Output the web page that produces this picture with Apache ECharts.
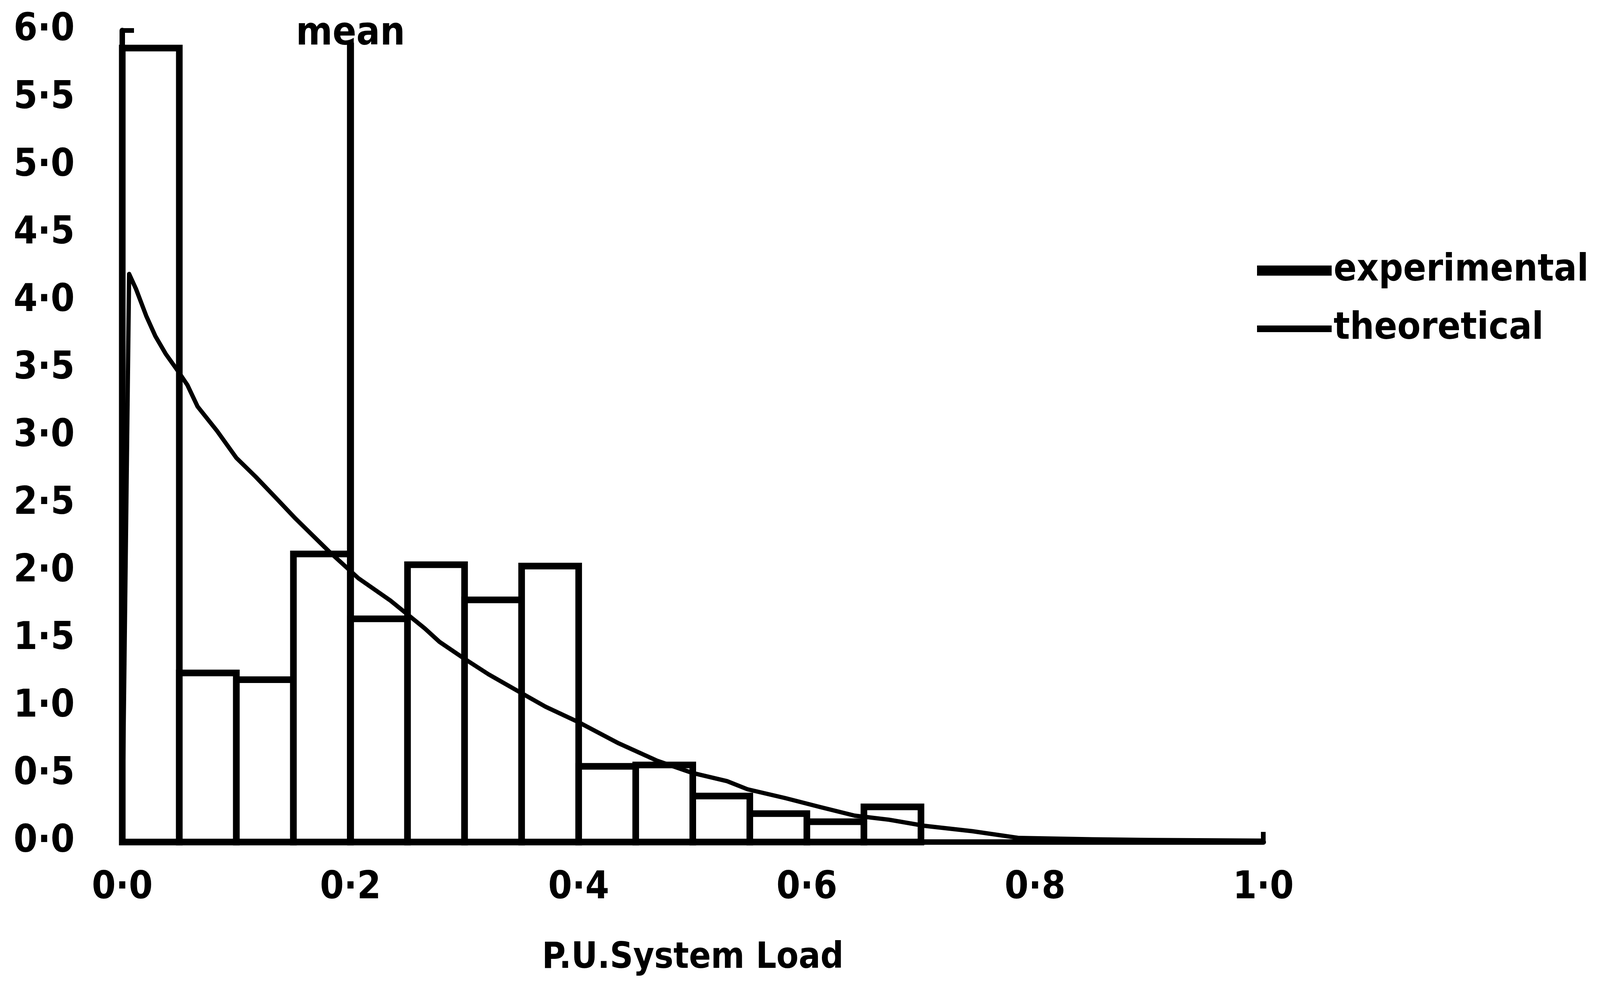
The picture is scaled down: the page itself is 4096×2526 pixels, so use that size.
<!DOCTYPE html>
<html>
<head>
<meta charset="utf-8">
<script src="https://cdn.jsdelivr.net/npm/echarts@6/dist/echarts.min.js"></script>
<style>
html,body{margin:0;padding:0;background:#fff;}
#chart{width:4096px;height:2526px;}
</style>
</head>
<body>
<div id="chart"></div>
<script>
// ---- data ----
var binStart = [0.00, 0.05, 0.10, 0.15, 0.20, 0.25, 0.30, 0.35, 0.40, 0.45, 0.50, 0.55, 0.60, 0.65];
var binEnd   = [0.05, 0.10, 0.15, 0.20, 0.25, 0.30, 0.35, 0.40, 0.45, 0.50, 0.55, 0.60, 0.65, 0.70];
var experimental = [5.87, 1.25, 1.20, 2.13, 1.65, 2.05, 1.79, 2.04, 0.56, 0.57, 0.34, 0.21, 0.15, 0.26];

var theoX = [0.000, 0.006, 0.012, 0.021, 0.029, 0.038, 0.049, 0.057, 0.066, 0.083, 0.100, 0.117, 0.134, 0.152, 0.181, 0.207, 0.235, 0.265, 0.278, 0.299, 0.321, 0.348, 0.371, 0.399, 0.435, 0.469, 0.500, 0.530, 0.548, 0.581, 0.611, 0.642, 0.672, 0.703, 0.745, 0.786, 0.850, 0.900, 1.000];
var theoY = [0.00, 4.20, 4.09, 3.89, 3.74, 3.61, 3.48, 3.38, 3.22, 3.04, 2.84, 2.70, 2.55, 2.39, 2.15, 1.95, 1.785, 1.58, 1.48, 1.36, 1.24, 1.11, 1.00, 0.89, 0.73, 0.60, 0.51, 0.45, 0.39, 0.325, 0.26, 0.195, 0.165, 0.12, 0.08, 0.03, 0.02, 0.015, 0.01];

var meanX = [0.2, 0.2];
var meanY = [0.0, 5.91];

var xTicks = [0, 0.2, 0.4, 0.6, 0.8, 1.0];
var yTickStep = 0.5;
var seriesNames = ['experimental', 'theoretical'];
var meanLabel = 'mean';
var xName = 'P.U.System Load';

// ---- build ----
var FONT = "'Liberation Sans Narrow', 'DejaVu Sans Condensed', 'Roboto', sans-serif";
var W = 'bold';
function dotFmt(v) { return Number(v).toFixed(1).replace('.', '\u00B7'); }

var histData = binStart.map(function (s, i) { return [s, binEnd[i], experimental[i]]; });
var theoData = theoX.map(function (x, i) { return [x, theoY[i]]; });
var meanData = meanX.map(function (x, i) { return [x, meanY[i]]; });

var chart = echarts.init(document.getElementById('chart'), null, {renderer: 'canvas'});
chart.setOption({
  backgroundColor: '#ffffff',
  animation: false,
  textStyle: {fontFamily: FONT, color: '#000'},
  grid: {left: 313, right: 862, top: 78, bottom: 371, containLabel: false, outerBoundsMode: 'none'},
  legend: [
    {
      data: [{name: seriesNames[0]}],
      orient: 'vertical', left: 3218, top: 644, padding: 0,
      icon: 'rect', itemWidth: 191, itemHeight: 26, selectedMode: false,
      itemStyle: {color: '#000', borderWidth: 0},
      textStyle: {fontFamily: FONT, fontSize: 97, fontWeight: W, color: '#000'}
    },
    {
      data: [{name: seriesNames[1]}],
      orient: 'vertical', left: 3218, top: 793, padding: 0,
      icon: 'rect', itemWidth: 191, itemHeight: 17, selectedMode: false,
      itemStyle: {color: '#000', borderWidth: 0},
      textStyle: {fontFamily: FONT, fontSize: 97, fontWeight: W, color: '#000'}
    }
  ],
  xAxis: {
    type: 'value', min: xTicks[0], max: xTicks[xTicks.length - 1], interval: 0.2,
    name: xName, nameLocation: 'middle', nameGap: 252,
    nameTextStyle: {fontFamily: FONT, fontSize: 92, fontWeight: W, color: '#000'},
    axisLine: {show: true, onZero: false, lineStyle: {color: '#000', width: 14}},
    axisTick: {show: true, inside: true, length: 26, customValues: [1.0], lineStyle: {color: '#000', width: 12}},
    axisLabel: {show: true, margin: 70, fontFamily: FONT, fontSize: 98, fontWeight: W, color: '#000', formatter: dotFmt},
    splitLine: {show: false}
  },
  yAxis: {
    type: 'value', min: 0, max: 6, interval: yTickStep,
    axisLine: {show: true, onZero: false, lineStyle: {color: '#000', width: 14}},
    axisTick: {show: true, inside: true, length: 30, lineStyle: {color: '#000', width: 12}},
    axisLabel: {show: true, margin: 122, fontFamily: FONT, fontSize: 98, fontWeight: W, color: '#000', formatter: dotFmt},
    splitLine: {show: false}
  },
  series: [
    {
      name: seriesNames[0], type: 'custom', z: 2,
      encode: {x: [0, 1], y: 2},
      itemStyle: {color: '#000'},
      renderItem: function (params, api) {
        var p0 = api.coord([api.value(0), api.value(2)]);
        var p1 = api.coord([api.value(1), 0]);
        return {
          type: 'rect',
          shape: {x: p0[0], y: p0[1], width: p1[0] - p0[0], height: p1[1] - p0[1]},
          style: {fill: '#ffffff', stroke: '#000000', lineWidth: 17, lineJoin: 'miter'}
        };
      },
      data: histData
    },
    {
      name: seriesNames[1], type: 'line', z: 4, symbol: 'none', smooth: false,
      lineStyle: {color: '#000', width: 11, join: 'round'},
      itemStyle: {color: '#000'},
      data: theoData
    },
    {
      name: 'meanLine', type: 'line', z: 3, symbol: 'none',
      lineStyle: {color: '#000', width: 18},
      data: meanData
    },
    {
      name: 'meanText', type: 'scatter', z: 5, symbolSize: 0,
      itemStyle: {opacity: 1, color: '#000'},
      data: [meanData[1]],
      label: {show: true, position: 'top', distance: 0, offset: [0, 30], formatter: meanLabel,
              fontFamily: FONT, fontSize: 100, fontWeight: W, color: '#000', opacity: 1}
    }
  ]
});
</script>
</body>
</html>
